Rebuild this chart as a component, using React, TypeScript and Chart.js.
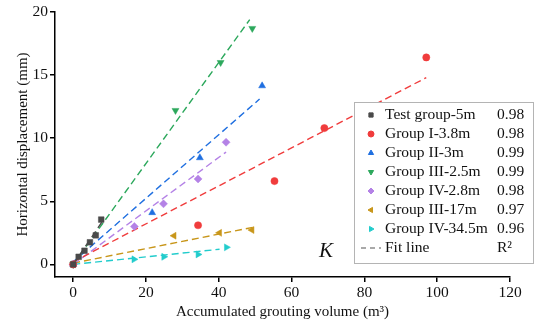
import React, { useEffect, useRef } from "react";
import { Chart, registerables } from "chart.js";
import { drawPoint } from "chart.js/helpers";

Chart.register(...registerables);

const seriesNames = [
  "Test group-5m",
  "Group I-3.8m",
  "Group II-3m",
  "Group III-2.5m",
  "Group IV-2.8m",
  "Group III-17m",
  "Group IV-34.5m",
];
const r2Values = ["0.98", "0.98", "0.99", "0.99", "0.98", "0.97", "0.96"];
const colors = ["#4a4a4a", "#f03c3c", "#1f6fe0", "#2ca85c", "#b482e6", "#c8961a", "#22cccc"];
const pointStyles = ["rect", "circle", "triangle", "triangle", "rectRot", "triangle", "triangle"];
const rotations = [0, 0, 0, 180, 0, 270, 90];

const testX = [0, 1.5, 3.1, 4.6, 6.2, 7.7];
const testY = [0, 0.6, 1.08, 1.75, 2.3, 3.55];
const g1X = [0, 34.3, 55.3, 69, 97];
const g1Y = [0, 3.1, 6.6, 10.8, 16.4];
const g2X = [0, 21.7, 34.8, 51.9];
const g2Y = [0, 4.1, 8.45, 14.15];
const g3X = [0, 28.1, 40.5, 49.2];
const g3Y = [0, 12.2, 16.0, 18.7];
const g4X = [0, 16.8, 24.8, 34.3, 42];
const g4Y = [0, 3.0, 4.8, 6.77, 9.68];
const g5X = [0, 27.7, 40.2, 49.1];
const g5Y = [0, 2.27, 2.5, 2.72];
const g6X = [0, 16.7, 24.9, 34.3, 42.1];
const g6Y = [0, 0.4, 0.6, 0.79, 1.35];

// fit line endpoints [x0, y0, x1, y1]
const fitTest = [0, 0, 8, 3.4];
const fitG1 = [0, 0.2, 97, 14.8];
const fitG2 = [0, 0.2, 51.2, 13.1];
const fitG3 = [0, 0, 48.5, 19.4];
const fitG4 = [0, 0, 42, 8.9];
const fitG5 = [0, 0.1, 49.4, 2.94];
const fitG6 = [0, 0, 40.2, 1.2];

const xTicks = [0, 20, 40, 60, 80, 100, 120];
const yTicks = [0, 5, 10, 15, 20];

const FONT = "'Liberation Serif', 'Times New Roman', serif";

const zip = (xs: number[], ys: number[]) => xs.map((x, i) => ({ x, y: ys[i] }));
const fitPts = (f: number[]) => [
  { x: f[0], y: f[1] },
  { x: f[2], y: f[3] },
];

const legendPlugin = {
  id: "customLegend",
  afterDatasetsDraw(chart: any) {
    const ctx = chart.ctx as CanvasRenderingContext2D;
    ctx.save();
    const x0 = 354, y0 = 102, w = 179, h = 161;
    ctx.fillStyle = "#ffffff";
    ctx.fillRect(x0, y0, w, h);
    ctx.strokeStyle = "#b4b4b4";
    ctx.lineWidth = 1;
    ctx.strokeRect(x0 + 0.5, y0 + 0.5, w, h);
    ctx.font = `15.5px ${FONT}`;
    ctx.textBaseline = "middle";
    for (let i = 0; i < seriesNames.length; i++) {
      const cy = 115 + i * 19;
      ctx.fillStyle = colors[i];
      ctx.strokeStyle = colors[i];
      drawPoint(ctx, { pointStyle: pointStyles[i], radius: 3, rotation: rotations[i], borderWidth: 1 } as any, 371, cy);
      ctx.fillStyle = "#111";
      ctx.textAlign = "left";
      ctx.fillText(seriesNames[i], 385, cy);
      ctx.fillText(r2Values[i], 497, cy);
    }
    const cy = 115 + 7 * 19;
    ctx.strokeStyle = "#555";
    ctx.lineWidth = 1.2;
    ctx.setLineDash([5, 4]);
    ctx.beginPath();
    ctx.moveTo(361, cy);
    ctx.lineTo(381, cy);
    ctx.stroke();
    ctx.setLineDash([]);
    ctx.fillStyle = "#111";
    ctx.fillText("Fit line", 385, cy);
    ctx.fillText("R\u00B2", 497, cy);
    ctx.font = `italic 21px ${FONT}`;
    ctx.fillText("K", 319, 251);
    ctx.restore();
  },
};

export default function App() {
  const ref = useRef<HTMLCanvasElement>(null);
  useEffect(() => {
    const pointSets = [
      zip(testX, testY),
      zip(g1X, g1Y),
      zip(g2X, g2Y),
      zip(g3X, g3Y),
      zip(g4X, g4Y),
      zip(g5X, g5Y),
      zip(g6X, g6Y),
    ];
    const fits = [fitTest, fitG1, fitG2, fitG3, fitG4, fitG5, fitG6];
    const datasets: any[] = [];
    pointSets.forEach((d, i) => {
      datasets.push({
        label: seriesNames[i],
        data: d,
        showLine: false,
        pointStyle: pointStyles[i],
        rotation: rotations[i],
        pointRadius: i === 1 ? 3.6 : 4,
        backgroundColor: colors[i],
        borderColor: colors[i],
        borderWidth: 0.5,
      });
    });
    fits.forEach((f, i) => {
      datasets.push({
        label: seriesNames[i] + " fit",
        data: fitPts(f),
        showLine: true,
        pointRadius: 0,
        borderColor: colors[i],
        borderWidth: 1.4,
        borderDash: [7, 4],
      });
    });
    const chart = new Chart(ref.current!, {
      type: "scatter",
      data: { datasets },
      plugins: [legendPlugin],
      options: {
        animation: false,
        responsive: false,
        layout: { padding: { left: 0, right: 25, top: 12, bottom: 0 } },
        plugins: { legend: { display: false }, tooltip: { enabled: false } },
        scales: {
          x: {
            type: "linear",
            min: -5,
            max: 120,
            afterBuildTicks: (s: any) => {
              s.ticks = xTicks.map((v) => ({ value: v }));
            },
            afterFit: (s: any) => {
              s.height = 50;
            },
            grid: { drawOnChartArea: false, color: "#000", tickLength: 5, lineWidth: 1.5 },
            border: { display: true, color: "#000", width: 1.5 },
            ticks: { color: "#111", font: { family: FONT, size: 15.5 }, padding: 2, maxRotation: 0 },
            title: {
              display: true,
              text: "Accumulated grouting volume (m\u00B3)",
              color: "#111",
              font: { family: FONT, size: 15 },
              padding: { top: 0, bottom: 6 },
            },
          },
          y: {
            type: "linear",
            min: -1,
            max: 20,
            afterBuildTicks: (s: any) => {
              s.ticks = yTicks.map((v) => ({ value: v }));
            },
            afterFit: (s: any) => {
              s.width = 55;
            },
            grid: { drawOnChartArea: false, color: "#000", tickLength: 5, lineWidth: 1.5 },
            border: { display: true, color: "#000", width: 1.5 },
            ticks: { color: "#111", font: { family: FONT, size: 15.5 }, padding: 2 },
            title: {
              display: true,
              text: "Horizontal displacement (mm)",
              color: "#111",
              font: { family: FONT, size: 15 },
              padding: { top: 14, bottom: 0 },
            },
          },
        },
      } as any,
    });
    return () => chart.destroy();
  }, []);
  return (
    <div style={{ position: "fixed", left: 0, top: 0, width: 535, height: 327, background: "#fff" }}>
      <canvas ref={ref} width={535} height={327} style={{ display: "block" }} />
    </div>
  );
}
